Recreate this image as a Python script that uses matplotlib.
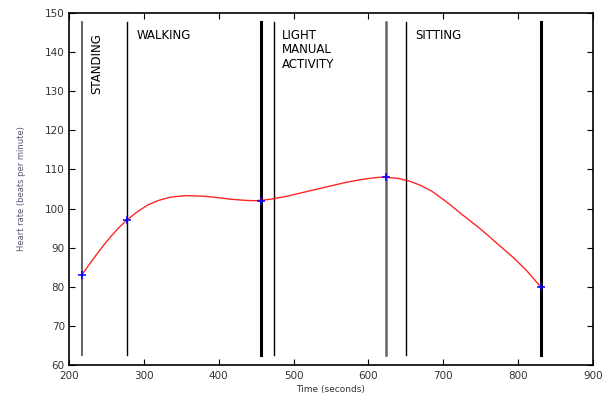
import matplotlib.pyplot as plt

# measured activity change points (time s, heart rate bpm)
point_t = [217, 277, 457, 623, 830]
point_hr = [83, 97, 102, 108, 80]

# smooth curve
curve_t = [217, 227, 237, 247, 257, 267, 277, 290, 305, 320, 335, 355, 375, 395, 415,
           435, 447, 457, 470, 490, 510, 530, 550, 570, 590, 605, 615, 623,
           640, 655, 670, 685, 705, 725, 749, 770, 794, 812, 830]
curve_hr = [83, 85.7, 88.3, 90.8, 93.1, 95.2, 97, 99.0, 100.9, 102.1, 102.9, 103.3, 103.2, 102.9, 102.4,
            102.1, 102.0, 102.1, 102.4, 103.1, 104.0, 104.9, 105.8, 106.7, 107.4, 107.8, 108.0, 108,
            107.7, 107.0, 105.9, 104.4, 101.6, 98.5, 94.9, 91.4, 87.4, 84.0, 80]

# phase boundaries (x, linewidth, colour)
bound_x = [217, 277, 456, 474, 623, 650, 830]
bound_w = [1.3, 1.0, 2.2, 1.0, 1.8, 1.0, 2.2]
bound_c = ['#555555', 'black', 'black', 'black', '#666666', 'black', 'black']

labels = ['WALKING', 'LIGHT\nMANUAL\nACTIVITY', 'SITTING']
label_x = [290, 485, 662]

fig = plt.figure(figsize=(6.06, 4.01), dpi=100)
ax = fig.add_axes([0.1139, 0.0898, 0.8646, 0.8778])

for x, w, c in zip(bound_x, bound_w, bound_c):
    ax.plot([x, x], [62.6, 147.6], color=c, lw=w)

ax.plot(curve_t, curve_hr, color='red', lw=1.0, alpha=0.85)
ax.plot(point_t, point_hr, '+', color='blue', ms=6, mew=1.1)

ax.text(237, 144.8, 'STANDING', rotation=90, ha='center', va='top', fontsize=8.5)
for x, s in zip(label_x, labels):
    ax.text(x, 146, s, ha='left', va='top', fontsize=8.5, linespacing=1.15)

ax.set_xlim(200, 900)
ax.set_ylim(60, 150)
ax.set_xticks(range(200, 901, 100))
ax.set_yticks(range(60, 151, 10))
ax.tick_params(direction='in', top=True, right=True, length=4, labelsize=7.5,
               labelcolor='#333333')
ax.tick_params(axis='x', pad=4)
ax.tick_params(axis='y', pad=3)
for s in ax.spines.values():
    s.set_linewidth(1.2)

ax.set_xlabel('Time (seconds)', fontsize=6.5, color='#333333', labelpad=3)
ax.set_ylabel('Heart rate (beats per minute)', fontsize=6, color='#555577', labelpad=14)

fig.savefig('out.png', dpi=100)
